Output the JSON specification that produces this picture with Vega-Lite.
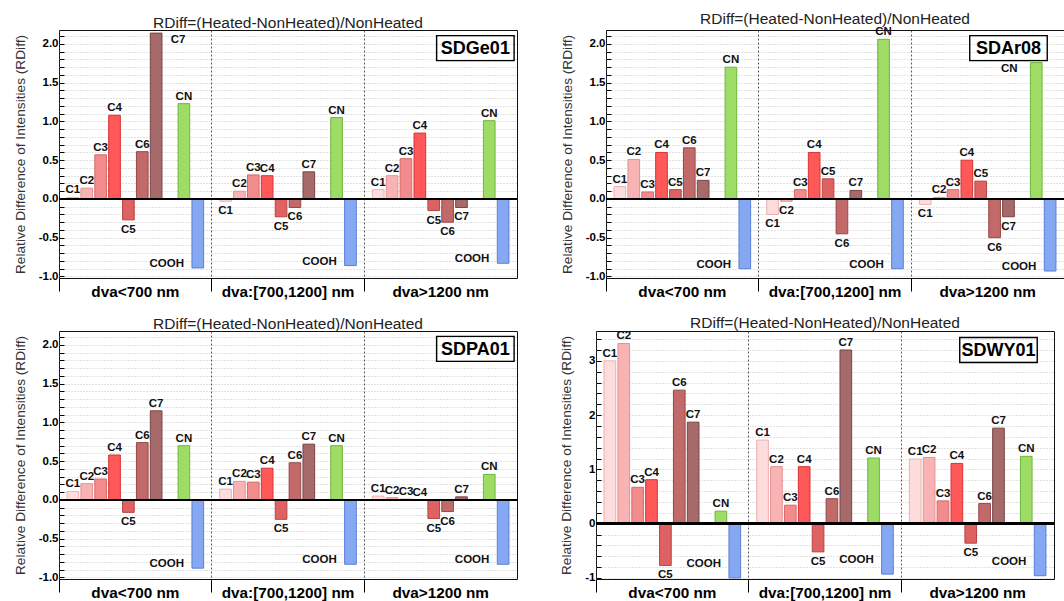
{
  "$schema": "https://vega.github.io/schema/vega-lite/v6.json",
  "padding": {"left": 12, "top": 11, "right": 0, "bottom": 0},
  "background": "white",
  "config": {
    "font": "Liberation Sans",
    "view": {"stroke": "#111", "strokeWidth": 1},
    "title": {"fontSize": 15.5, "fontWeight": "normal", "color": "#222", "offset": -1, "frame": "group"},
    "text": {"fontWeight": "bold", "fontSize": 11.5, "color": "#111"},
    "axisX": {"title": null, "bandPosition": 0, "labelAngle": 0, "labelFontSize": 15.3, "labelFontWeight": "bold", "labelColor": "#000", "labelPadding": -7, "tickSize": 13, "tickColor": "#000", "grid": true, "gridColor": "#333", "gridDash": [2, 2], "gridWidth": 0.8, "domain": false},
    "axisY": {"labelOverlap": false, "labelFontSize": 11.5, "labelFontWeight": "bold", "labelColor": "#000", "labelPadding": 6, "tickColor": "#000", "domain": false, "grid": true, "gridColor": "#c4c4c4", "gridDash": [1, 2], "titleFontSize": 13.7, "titleFontWeight": "normal", "titleColor": "#333", "titlePadding": 11}
  },
  "datasets": {
    "rdiff": [
      {"sample": "SDGe01", "size": "dva<700 nm", "compound": "C1", "value": 0.02},
      {"sample": "SDGe01", "size": "dva<700 nm", "compound": "C2", "value": 0.14},
      {"sample": "SDGe01", "size": "dva<700 nm", "compound": "C3", "value": 0.57},
      {"sample": "SDGe01", "size": "dva<700 nm", "compound": "C4", "value": 1.08},
      {"sample": "SDGe01", "size": "dva<700 nm", "compound": "C5", "value": -0.27},
      {"sample": "SDGe01", "size": "dva<700 nm", "compound": "C6", "value": 0.61},
      {"sample": "SDGe01", "size": "dva<700 nm", "compound": "C7", "value": 2.14},
      {"sample": "SDGe01", "size": "dva<700 nm", "compound": "CN", "value": 1.23},
      {"sample": "SDGe01", "size": "dva<700 nm", "compound": "COOH", "value": -0.89},
      {"sample": "SDGe01", "size": "dva:[700,1200] nm", "compound": "C1", "value": -0.03},
      {"sample": "SDGe01", "size": "dva:[700,1200] nm", "compound": "C2", "value": 0.10},
      {"sample": "SDGe01", "size": "dva:[700,1200] nm", "compound": "C3", "value": 0.31},
      {"sample": "SDGe01", "size": "dva:[700,1200] nm", "compound": "C4", "value": 0.30},
      {"sample": "SDGe01", "size": "dva:[700,1200] nm", "compound": "C5", "value": -0.23},
      {"sample": "SDGe01", "size": "dva:[700,1200] nm", "compound": "C6", "value": -0.11},
      {"sample": "SDGe01", "size": "dva:[700,1200] nm", "compound": "C7", "value": 0.35},
      {"sample": "SDGe01", "size": "dva:[700,1200] nm", "compound": "CN", "value": 1.05},
      {"sample": "SDGe01", "size": "dva:[700,1200] nm", "compound": "COOH", "value": -0.86},
      {"sample": "SDGe01", "size": "dva>1200 nm", "compound": "C1", "value": 0.12},
      {"sample": "SDGe01", "size": "dva>1200 nm", "compound": "C2", "value": 0.30},
      {"sample": "SDGe01", "size": "dva>1200 nm", "compound": "C3", "value": 0.52},
      {"sample": "SDGe01", "size": "dva>1200 nm", "compound": "C4", "value": 0.85},
      {"sample": "SDGe01", "size": "dva>1200 nm", "compound": "C5", "value": -0.15},
      {"sample": "SDGe01", "size": "dva>1200 nm", "compound": "C6", "value": -0.30},
      {"sample": "SDGe01", "size": "dva>1200 nm", "compound": "C7", "value": -0.11},
      {"sample": "SDGe01", "size": "dva>1200 nm", "compound": "CN", "value": 1.01},
      {"sample": "SDGe01", "size": "dva>1200 nm", "compound": "COOH", "value": -0.83},
      {"sample": "SDAr08", "size": "dva<700 nm", "compound": "C1", "value": 0.16},
      {"sample": "SDAr08", "size": "dva<700 nm", "compound": "C2", "value": 0.51},
      {"sample": "SDAr08", "size": "dva<700 nm", "compound": "C3", "value": 0.09},
      {"sample": "SDAr08", "size": "dva<700 nm", "compound": "C4", "value": 0.60},
      {"sample": "SDAr08", "size": "dva<700 nm", "compound": "C5", "value": 0.12},
      {"sample": "SDAr08", "size": "dva<700 nm", "compound": "C6", "value": 0.66},
      {"sample": "SDAr08", "size": "dva<700 nm", "compound": "C7", "value": 0.24},
      {"sample": "SDAr08", "size": "dva<700 nm", "compound": "CN", "value": 1.70},
      {"sample": "SDAr08", "size": "dva<700 nm", "compound": "COOH", "value": -0.90},
      {"sample": "SDAr08", "size": "dva:[700,1200] nm", "compound": "C1", "value": -0.20},
      {"sample": "SDAr08", "size": "dva:[700,1200] nm", "compound": "C2", "value": -0.03},
      {"sample": "SDAr08", "size": "dva:[700,1200] nm", "compound": "C3", "value": 0.12},
      {"sample": "SDAr08", "size": "dva:[700,1200] nm", "compound": "C4", "value": 0.60},
      {"sample": "SDAr08", "size": "dva:[700,1200] nm", "compound": "C5", "value": 0.26},
      {"sample": "SDAr08", "size": "dva:[700,1200] nm", "compound": "C6", "value": -0.45},
      {"sample": "SDAr08", "size": "dva:[700,1200] nm", "compound": "C7", "value": 0.11},
      {"sample": "SDAr08", "size": "dva:[700,1200] nm", "compound": "CN", "value": 2.06},
      {"sample": "SDAr08", "size": "dva:[700,1200] nm", "compound": "COOH", "value": -0.90},
      {"sample": "SDAr08", "size": "dva>1200 nm", "compound": "C1", "value": -0.07},
      {"sample": "SDAr08", "size": "dva>1200 nm", "compound": "C2", "value": 0.02},
      {"sample": "SDAr08", "size": "dva>1200 nm", "compound": "C3", "value": 0.12},
      {"sample": "SDAr08", "size": "dva>1200 nm", "compound": "C4", "value": 0.50},
      {"sample": "SDAr08", "size": "dva>1200 nm", "compound": "C5", "value": 0.23},
      {"sample": "SDAr08", "size": "dva>1200 nm", "compound": "C6", "value": -0.50},
      {"sample": "SDAr08", "size": "dva>1200 nm", "compound": "C7", "value": -0.23},
      {"sample": "SDAr08", "size": "dva>1200 nm", "compound": "CN", "value": 1.76},
      {"sample": "SDAr08", "size": "dva>1200 nm", "compound": "COOH", "value": -0.93},
      {"sample": "SDPA01", "size": "dva<700 nm", "compound": "C1", "value": 0.11},
      {"sample": "SDPA01", "size": "dva<700 nm", "compound": "C2", "value": 0.21},
      {"sample": "SDPA01", "size": "dva<700 nm", "compound": "C3", "value": 0.27},
      {"sample": "SDPA01", "size": "dva<700 nm", "compound": "C4", "value": 0.58},
      {"sample": "SDPA01", "size": "dva<700 nm", "compound": "C5", "value": -0.16},
      {"sample": "SDPA01", "size": "dva<700 nm", "compound": "C6", "value": 0.74},
      {"sample": "SDPA01", "size": "dva<700 nm", "compound": "C7", "value": 1.15},
      {"sample": "SDPA01", "size": "dva<700 nm", "compound": "CN", "value": 0.70},
      {"sample": "SDPA01", "size": "dva<700 nm", "compound": "COOH", "value": -0.88},
      {"sample": "SDPA01", "size": "dva:[700,1200] nm", "compound": "C1", "value": 0.14},
      {"sample": "SDPA01", "size": "dva:[700,1200] nm", "compound": "C2", "value": 0.24},
      {"sample": "SDPA01", "size": "dva:[700,1200] nm", "compound": "C3", "value": 0.23},
      {"sample": "SDPA01", "size": "dva:[700,1200] nm", "compound": "C4", "value": 0.41},
      {"sample": "SDPA01", "size": "dva:[700,1200] nm", "compound": "C5", "value": -0.25},
      {"sample": "SDPA01", "size": "dva:[700,1200] nm", "compound": "C6", "value": 0.48},
      {"sample": "SDPA01", "size": "dva:[700,1200] nm", "compound": "C7", "value": 0.72},
      {"sample": "SDPA01", "size": "dva:[700,1200] nm", "compound": "CN", "value": 0.70},
      {"sample": "SDPA01", "size": "dva:[700,1200] nm", "compound": "COOH", "value": -0.83},
      {"sample": "SDPA01", "size": "dva>1200 nm", "compound": "C1", "value": 0.05},
      {"sample": "SDPA01", "size": "dva>1200 nm", "compound": "C2", "value": 0.03},
      {"sample": "SDPA01", "size": "dva>1200 nm", "compound": "C3", "value": 0.01},
      {"sample": "SDPA01", "size": "dva>1200 nm", "compound": "C4", "value": 0.005},
      {"sample": "SDPA01", "size": "dva>1200 nm", "compound": "C5", "value": -0.24},
      {"sample": "SDPA01", "size": "dva>1200 nm", "compound": "C6", "value": -0.15},
      {"sample": "SDPA01", "size": "dva>1200 nm", "compound": "C7", "value": 0.04},
      {"sample": "SDPA01", "size": "dva>1200 nm", "compound": "CN", "value": 0.33},
      {"sample": "SDPA01", "size": "dva>1200 nm", "compound": "COOH", "value": -0.83},
      {"sample": "SDWY01", "size": "dva<700 nm", "compound": "C1", "value": 3.00},
      {"sample": "SDWY01", "size": "dva<700 nm", "compound": "C2", "value": 3.32},
      {"sample": "SDWY01", "size": "dva<700 nm", "compound": "C3", "value": 0.67},
      {"sample": "SDWY01", "size": "dva<700 nm", "compound": "C4", "value": 0.81},
      {"sample": "SDWY01", "size": "dva<700 nm", "compound": "C5", "value": -0.77},
      {"sample": "SDWY01", "size": "dva<700 nm", "compound": "C6", "value": 2.46},
      {"sample": "SDWY01", "size": "dva<700 nm", "compound": "C7", "value": 1.87},
      {"sample": "SDWY01", "size": "dva<700 nm", "compound": "CN", "value": 0.23},
      {"sample": "SDWY01", "size": "dva<700 nm", "compound": "COOH", "value": -1.00},
      {"sample": "SDWY01", "size": "dva:[700,1200] nm", "compound": "C1", "value": 1.54},
      {"sample": "SDWY01", "size": "dva:[700,1200] nm", "compound": "C2", "value": 1.05},
      {"sample": "SDWY01", "size": "dva:[700,1200] nm", "compound": "C3", "value": 0.34},
      {"sample": "SDWY01", "size": "dva:[700,1200] nm", "compound": "C4", "value": 1.05},
      {"sample": "SDWY01", "size": "dva:[700,1200] nm", "compound": "C5", "value": -0.52},
      {"sample": "SDWY01", "size": "dva:[700,1200] nm", "compound": "C6", "value": 0.46},
      {"sample": "SDWY01", "size": "dva:[700,1200] nm", "compound": "C7", "value": 3.20},
      {"sample": "SDWY01", "size": "dva:[700,1200] nm", "compound": "CN", "value": 1.21},
      {"sample": "SDWY01", "size": "dva:[700,1200] nm", "compound": "COOH", "value": -0.93},
      {"sample": "SDWY01", "size": "dva>1200 nm", "compound": "C1", "value": 1.19},
      {"sample": "SDWY01", "size": "dva>1200 nm", "compound": "C2", "value": 1.22},
      {"sample": "SDWY01", "size": "dva>1200 nm", "compound": "C3", "value": 0.42},
      {"sample": "SDWY01", "size": "dva>1200 nm", "compound": "C4", "value": 1.11},
      {"sample": "SDWY01", "size": "dva>1200 nm", "compound": "C5", "value": -0.36},
      {"sample": "SDWY01", "size": "dva>1200 nm", "compound": "C6", "value": 0.37},
      {"sample": "SDWY01", "size": "dva>1200 nm", "compound": "C7", "value": 1.76},
      {"sample": "SDWY01", "size": "dva>1200 nm", "compound": "CN", "value": 1.24},
      {"sample": "SDWY01", "size": "dva>1200 nm", "compound": "COOH", "value": -0.96}
    ]
  },
  "spacing": 15,
  "vconcat": [
    {
      "spacing": 40,
      "hconcat": [
        {
          "width": 458, "height": 248,
          "title": "RDiff=(Heated-NonHeated)/NonHeated",
          "data": {"name": "rdiff"},
          "transform": [{"filter": "datum.sample === 'SDGe01'"}],
          "encoding": {
            "x": {"field": "size", "type": "nominal", "scale": {"type": "band", "domain": ["dva<700 nm", "dva:[700,1200] nm", "dva>1200 nm"], "paddingInner": 0, "paddingOuter": 0}},
            "xOffset": {"field": "compound", "type": "nominal", "scale": {"type": "band", "domain": ["C1", "C2", "C3", "C4", "C5", "C6", "C7", "gap", "CN", "COOH"], "paddingInner": 0.16, "paddingOuter": 0.58}},
            "y": {"field": "value", "type": "quantitative", "scale": {"domain": [-1.02, 2.18], "nice": false, "zero": false},
                  "axis": {"values": [-1, -0.9, -0.8, -0.7, -0.6, -0.5, -0.4, -0.3, -0.2, -0.1, 0, 0.1, 0.2, 0.3, 0.4, 0.5, 0.6, 0.7, 0.8, 0.9, 1, 1.1, 1.2, 1.3, 1.4, 1.5, 1.6, 1.7, 1.8, 1.9, 2, 2.1],
                           "labelExpr": "abs(datum.value * 2 - round(datum.value * 2)) < 0.001 ? replace(format(datum.value, '.1f'), '\u2212', '-') : ''",
                           "tickSize": -5, "title": "Relative Difference of Intensities (RDiff)"}},
            "text": {"field": "compound"}
          },
          "layer": [
            {
              "mark": {"type": "bar", "strokeWidth": 1},
              "encoding": {
                "fill": {"field": "compound", "type": "nominal", "legend": null,
                         "scale": {"domain": ["C1", "C2", "C3", "C4", "C5", "C6", "C7", "CN", "COOH"], "range": ["#fcdcdc", "#f8b4b4", "#f28c8c", "#ff5858", "#de6262", "#c26a6a", "#a76a6a", "#9edc66", "#86a8f2"]}},
                "stroke": {"field": "compound", "type": "nominal", "legend": null,
                           "scale": {"domain": ["C1", "C2", "C3", "C4", "C5", "C6", "C7", "CN", "COOH"], "range": ["#eeb0b0", "#e69090", "#d86a6a", "#d83434", "#b84444", "#964848", "#7a4444", "#6cb83c", "#5a7ed8"]}}
              }
            },
            {"mark": {"type": "rule", "color": "#000", "strokeWidth": 1.6}, "encoding": {"x": null, "xOffset": null, "y": {"datum": 0, "type": "quantitative"}}},
            {"transform": [{"filter": "datum.value >= 0 && datum.compound !== 'COOH' && datum.value < 2.1"}], "mark": {"type": "text", "baseline": "bottom", "dy": -2}},
            {"transform": [{"filter": "datum.value >= 2.1"}], "mark": {"type": "text", "baseline": "top", "dy": 1, "dx": 22}},
            {"transform": [{"filter": "datum.value < 0 && datum.compound !== 'COOH'"}], "mark": {"type": "text", "baseline": "top", "dy": 4}},
            {"transform": [{"filter": "datum.compound === 'COOH'"}], "mark": {"type": "text", "baseline": "bottom", "dy": 1, "dx": -31}},
            {
              "transform": [{"filter": "datum.compound === 'C1' && datum.size === 'dva<700 nm'"}],
              "mark": {"type": "point", "shape": "M-1.55,-0.5H1.55V0.5H-1.55Z", "size": 2500, "filled": false, "stroke": "#000", "strokeWidth": 1.4, "opacity": 1},
              "encoding": {"x": {"datum": "dva>1200 nm", "type": "nominal"}, "xOffset": {"datum": "gap", "type": "nominal"}, "y": {"datum": 1.946, "type": "quantitative"}, "text": null}
            },
            {
              "transform": [{"filter": "datum.compound === 'C1' && datum.size === 'dva<700 nm'"}],
              "mark": {"type": "text", "text": "SDGe01", "fontSize": 18, "baseline": "middle", "dy": 1, "color": "#000"},
              "encoding": {"x": {"datum": "dva>1200 nm", "type": "nominal"}, "xOffset": {"datum": "gap", "type": "nominal"}, "y": {"datum": 1.946, "type": "quantitative"}, "text": null}
            }
          ]
        },
        {
          "width": 458, "height": 248,
          "title": "RDiff=(Heated-NonHeated)/NonHeated",
          "data": {"name": "rdiff"},
          "transform": [{"filter": "datum.sample === 'SDAr08'"}],
          "encoding": {
            "x": {"field": "size", "type": "nominal", "scale": {"type": "band", "domain": ["dva<700 nm", "dva:[700,1200] nm", "dva>1200 nm"], "paddingInner": 0, "paddingOuter": 0}},
            "xOffset": {"field": "compound", "type": "nominal", "scale": {"type": "band", "domain": ["C1", "C2", "C3", "C4", "C5", "C6", "C7", "gap", "CN", "COOH"], "paddingInner": 0.16, "paddingOuter": 0.58}},
            "y": {"field": "value", "type": "quantitative", "scale": {"domain": [-1.02, 2.18], "nice": false, "zero": false},
                  "axis": {"values": [-1, -0.9, -0.8, -0.7, -0.6, -0.5, -0.4, -0.3, -0.2, -0.1, 0, 0.1, 0.2, 0.3, 0.4, 0.5, 0.6, 0.7, 0.8, 0.9, 1, 1.1, 1.2, 1.3, 1.4, 1.5, 1.6, 1.7, 1.8, 1.9, 2, 2.1],
                           "labelExpr": "abs(datum.value * 2 - round(datum.value * 2)) < 0.001 ? replace(format(datum.value, '.1f'), '\u2212', '-') : ''",
                           "tickSize": -5, "title": "Relative Difference of Intensities (RDiff)"}},
            "text": {"field": "compound"}
          },
          "layer": [
            {
              "mark": {"type": "bar", "strokeWidth": 1},
              "encoding": {
                "fill": {"field": "compound", "type": "nominal", "legend": null,
                         "scale": {"domain": ["C1", "C2", "C3", "C4", "C5", "C6", "C7", "CN", "COOH"], "range": ["#fcdcdc", "#f8b4b4", "#f28c8c", "#ff5858", "#de6262", "#c26a6a", "#a76a6a", "#9edc66", "#86a8f2"]}},
                "stroke": {"field": "compound", "type": "nominal", "legend": null,
                           "scale": {"domain": ["C1", "C2", "C3", "C4", "C5", "C6", "C7", "CN", "COOH"], "range": ["#eeb0b0", "#e69090", "#d86a6a", "#d83434", "#b84444", "#964848", "#7a4444", "#6cb83c", "#5a7ed8"]}}
              }
            },
            {"mark": {"type": "rule", "color": "#000", "strokeWidth": 1.6}, "encoding": {"x": null, "xOffset": null, "y": {"datum": 0, "type": "quantitative"}}},
            {"transform": [{"filter": "datum.value >= 0 && datum.compound !== 'COOH' && !(datum.compound === 'CN' && datum.size === 'dva>1200 nm')"}], "mark": {"type": "text", "baseline": "bottom", "dy": -2}},
            {"transform": [{"filter": "datum.compound === 'CN' && datum.size === 'dva>1200 nm'"}], "mark": {"type": "text", "baseline": "top", "dy": 0, "dx": -27}},
            {"transform": [{"filter": "datum.value < 0 && datum.compound !== 'COOH'"}], "mark": {"type": "text", "baseline": "top", "dy": 4}},
            {"transform": [{"filter": "datum.compound === 'COOH'"}], "mark": {"type": "text", "baseline": "bottom", "dy": 1, "dx": -31}},
            {
              "transform": [{"filter": "datum.compound === 'C1' && datum.size === 'dva<700 nm'"}],
              "mark": {"type": "point", "shape": "M-1.55,-0.5H1.55V0.5H-1.55Z", "size": 2500, "filled": false, "stroke": "#000", "strokeWidth": 1.4, "opacity": 1},
              "encoding": {"x": {"datum": "dva>1200 nm", "type": "nominal"}, "xOffset": {"datum": "C7", "type": "nominal"}, "y": {"datum": 1.946, "type": "quantitative"}, "text": null}
            },
            {
              "transform": [{"filter": "datum.compound === 'C1' && datum.size === 'dva<700 nm'"}],
              "mark": {"type": "text", "text": "SDAr08", "fontSize": 18, "baseline": "middle", "dy": 1, "color": "#000"},
              "encoding": {"x": {"datum": "dva>1200 nm", "type": "nominal"}, "xOffset": {"datum": "C7", "type": "nominal"}, "y": {"datum": 1.946, "type": "quantitative"}, "text": null}
            }
          ]
        }
      ]
    },
    {
      "spacing": 40,
      "hconcat": [
        {
          "width": 458, "height": 248,
          "title": "RDiff=(Heated-NonHeated)/NonHeated",
          "data": {"name": "rdiff"},
          "transform": [{"filter": "datum.sample === 'SDPA01'"}],
          "encoding": {
            "x": {"field": "size", "type": "nominal", "scale": {"type": "band", "domain": ["dva<700 nm", "dva:[700,1200] nm", "dva>1200 nm"], "paddingInner": 0, "paddingOuter": 0}},
            "xOffset": {"field": "compound", "type": "nominal", "scale": {"type": "band", "domain": ["C1", "C2", "C3", "C4", "C5", "C6", "C7", "gap", "CN", "COOH"], "paddingInner": 0.16, "paddingOuter": 0.58}},
            "y": {"field": "value", "type": "quantitative", "scale": {"domain": [-1.02, 2.18], "nice": false, "zero": false},
                  "axis": {"values": [-1, -0.9, -0.8, -0.7, -0.6, -0.5, -0.4, -0.3, -0.2, -0.1, 0, 0.1, 0.2, 0.3, 0.4, 0.5, 0.6, 0.7, 0.8, 0.9, 1, 1.1, 1.2, 1.3, 1.4, 1.5, 1.6, 1.7, 1.8, 1.9, 2, 2.1],
                           "labelExpr": "abs(datum.value * 2 - round(datum.value * 2)) < 0.001 ? replace(format(datum.value, '.1f'), '\u2212', '-') : ''",
                           "tickSize": -5, "title": "Relative Difference of Intensities (RDiff)"}},
            "text": {"field": "compound"}
          },
          "layer": [
            {
              "mark": {"type": "bar", "strokeWidth": 1},
              "encoding": {
                "fill": {"field": "compound", "type": "nominal", "legend": null,
                         "scale": {"domain": ["C1", "C2", "C3", "C4", "C5", "C6", "C7", "CN", "COOH"], "range": ["#fcdcdc", "#f8b4b4", "#f28c8c", "#ff5858", "#de6262", "#c26a6a", "#a76a6a", "#9edc66", "#86a8f2"]}},
                "stroke": {"field": "compound", "type": "nominal", "legend": null,
                           "scale": {"domain": ["C1", "C2", "C3", "C4", "C5", "C6", "C7", "CN", "COOH"], "range": ["#eeb0b0", "#e69090", "#d86a6a", "#d83434", "#b84444", "#964848", "#7a4444", "#6cb83c", "#5a7ed8"]}}
              }
            },
            {"mark": {"type": "rule", "color": "#000", "strokeWidth": 1.6}, "encoding": {"x": null, "xOffset": null, "y": {"datum": 0, "type": "quantitative"}}},
            {"transform": [{"filter": "datum.value >= 0 && datum.compound !== 'COOH'"}], "mark": {"type": "text", "baseline": "bottom", "dy": -2}},
            {"transform": [{"filter": "datum.value < 0 && datum.compound !== 'COOH'"}], "mark": {"type": "text", "baseline": "top", "dy": 4}},
            {"transform": [{"filter": "datum.compound === 'COOH'"}], "mark": {"type": "text", "baseline": "bottom", "dy": 1, "dx": -31}},
            {
              "transform": [{"filter": "datum.compound === 'C1' && datum.size === 'dva<700 nm'"}],
              "mark": {"type": "point", "shape": "M-1.55,-0.5H1.55V0.5H-1.55Z", "size": 2500, "filled": false, "stroke": "#000", "strokeWidth": 1.4, "opacity": 1},
              "encoding": {"x": {"datum": "dva>1200 nm", "type": "nominal"}, "xOffset": {"datum": "gap", "type": "nominal"}, "y": {"datum": 1.95, "type": "quantitative"}, "text": null}
            },
            {
              "transform": [{"filter": "datum.compound === 'C1' && datum.size === 'dva<700 nm'"}],
              "mark": {"type": "text", "text": "SDPA01", "fontSize": 18, "baseline": "middle", "dy": 1, "color": "#000"},
              "encoding": {"x": {"datum": "dva>1200 nm", "type": "nominal"}, "xOffset": {"datum": "gap", "type": "nominal"}, "y": {"datum": 1.95, "type": "quantitative"}, "text": null}
            }
          ]
        },
        {
          "width": 458, "height": 248,
          "title": "RDiff=(Heated-NonHeated)/NonHeated",
          "data": {"name": "rdiff"},
          "transform": [{"filter": "datum.sample === 'SDWY01'"}],
          "encoding": {
            "x": {"field": "size", "type": "nominal", "scale": {"type": "band", "domain": ["dva<700 nm", "dva:[700,1200] nm", "dva>1200 nm"], "paddingInner": 0, "paddingOuter": 0}},
            "xOffset": {"field": "compound", "type": "nominal", "scale": {"type": "band", "domain": ["C1", "C2", "C3", "C4", "C5", "C6", "C7", "gap", "CN", "COOH"], "paddingInner": 0.16, "paddingOuter": 0.58}},
            "y": {"field": "value", "type": "quantitative", "scale": {"domain": [-1.02, 3.55], "nice": false, "zero": false},
                  "axis": {"values": [-1, -0.8, -0.6, -0.4, -0.2, 0, 0.2, 0.4, 0.6, 0.8, 1, 1.2, 1.4, 1.6, 1.8, 2, 2.2, 2.4, 2.6, 2.8, 3, 3.2, 3.4],
                           "labelExpr": "abs(datum.value - round(datum.value)) < 0.001 ? replace(format(datum.value, 'd'), '\u2212', '-') : ''",
                           "tickSize": -5, "title": "Relative Difference of Intensities (RDiff)"}},
            "text": {"field": "compound"}
          },
          "layer": [
            {
              "mark": {"type": "bar", "strokeWidth": 1},
              "encoding": {
                "fill": {"field": "compound", "type": "nominal", "legend": null,
                         "scale": {"domain": ["C1", "C2", "C3", "C4", "C5", "C6", "C7", "CN", "COOH"], "range": ["#fcdcdc", "#f8b4b4", "#f28c8c", "#ff5858", "#de6262", "#c26a6a", "#a76a6a", "#9edc66", "#86a8f2"]}},
                "stroke": {"field": "compound", "type": "nominal", "legend": null,
                           "scale": {"domain": ["C1", "C2", "C3", "C4", "C5", "C6", "C7", "CN", "COOH"], "range": ["#eeb0b0", "#e69090", "#d86a6a", "#d83434", "#b84444", "#964848", "#7a4444", "#6cb83c", "#5a7ed8"]}}
              }
            },
            {"mark": {"type": "rule", "color": "#000", "strokeWidth": 1.6}, "encoding": {"x": null, "xOffset": null, "y": {"datum": 0, "type": "quantitative"}}},
            {"transform": [{"filter": "datum.value >= 0 && datum.compound !== 'COOH'"}], "mark": {"type": "text", "baseline": "bottom", "dy": -2}},
            {"transform": [{"filter": "datum.value < 0 && datum.compound !== 'COOH'"}], "mark": {"type": "text", "baseline": "top", "dy": 4}},
            {"transform": [{"filter": "datum.compound === 'COOH'"}], "mark": {"type": "text", "baseline": "bottom", "dy": -9, "dx": -31}},
            {
              "transform": [{"filter": "datum.compound === 'C1' && datum.size === 'dva<700 nm'"}],
              "mark": {"type": "point", "shape": "M-1.55,-0.5H1.55V0.5H-1.55Z", "size": 2500, "filled": false, "stroke": "#000", "strokeWidth": 1.4, "opacity": 1},
              "encoding": {"x": {"datum": "dva>1200 nm", "type": "nominal"}, "xOffset": {"datum": "C7", "type": "nominal"}, "y": {"datum": 3.2, "type": "quantitative"}, "text": null}
            },
            {
              "transform": [{"filter": "datum.compound === 'C1' && datum.size === 'dva<700 nm'"}],
              "mark": {"type": "text", "text": "SDWY01", "fontSize": 18, "baseline": "middle", "dy": 1, "color": "#000"},
              "encoding": {"x": {"datum": "dva>1200 nm", "type": "nominal"}, "xOffset": {"datum": "C7", "type": "nominal"}, "y": {"datum": 3.2, "type": "quantitative"}, "text": null}
            }
          ]
        }
      ]
    }
  ]
}
